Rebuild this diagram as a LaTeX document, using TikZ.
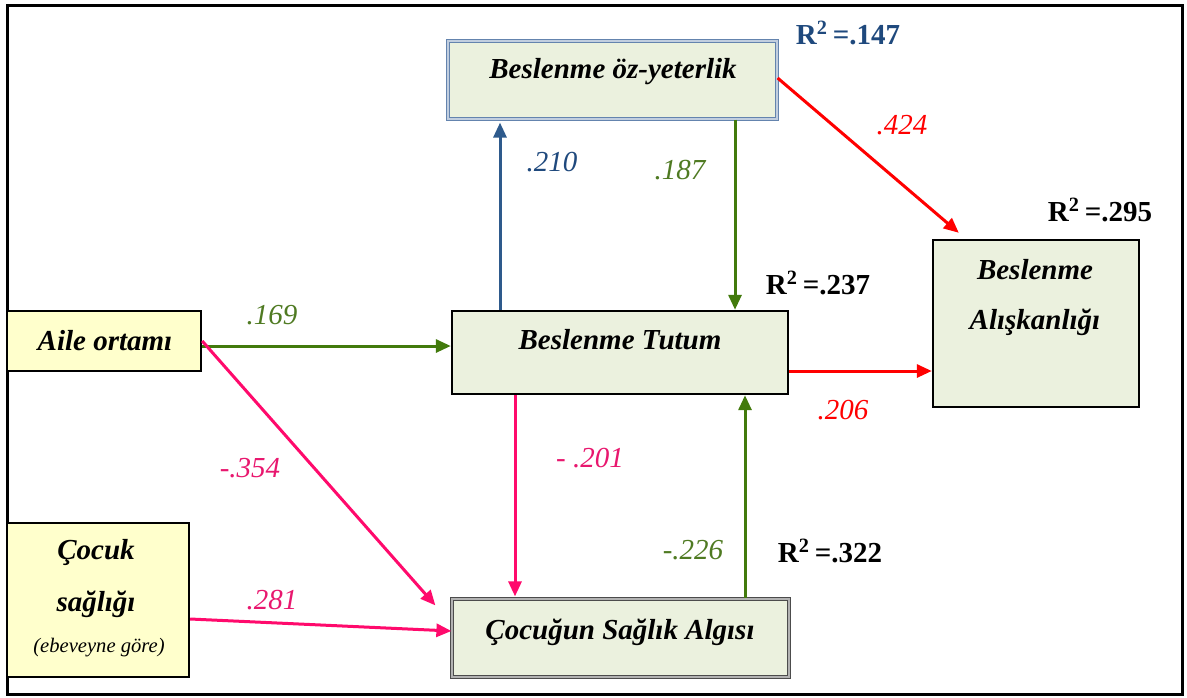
\documentclass[tikz,border=0pt]{standalone}
\usepackage{fontspec}
\setmainfont{Liberation Serif}
\usetikzlibrary{arrows.meta,calc}

\definecolor{boxgreen}{HTML}{EBF1DE}
\definecolor{boxyellow}{HTML}{FFFFCC}
\definecolor{pathgreen}{HTML}{427A0C}
\definecolor{labgreen}{HTML}{4F7A22}
\definecolor{pathblue}{HTML}{2E5A8C}
\definecolor{labblue}{HTML}{1F497D}
\definecolor{pathred}{HTML}{FF0000}
\definecolor{pathpink}{HTML}{FF0A6C}
\definecolor{labpink}{HTML}{E8176E}
\definecolor{frameblue}{HTML}{6484AE}

\tikzset{
  var/.style={draw=black, line width=1.2pt, fill=boxgreen, inner sep=0pt},
  exo/.style={draw=black, line width=1.2pt, fill=boxyellow, inner sep=0pt},
  dblblue/.style={draw=frameblue, double=frameblue!40, line width=0.6pt,
    double distance=0.7pt, fill=boxgreen, inner sep=0pt},
  dblgray/.style={draw=black!70, double=black!30, line width=0.6pt,
    double distance=0.7pt, fill=boxgreen, inner sep=0pt},
  boxtext/.style={font=\fontsize{14.5}{17}\selectfont\bfseries\itshape, inner sep=0pt},
  smalltext/.style={font=\fontsize{10.3}{12}\selectfont\itshape, inner sep=0pt},
  coef/.style={font=\fontsize{14.5}{17}\selectfont\itshape, inner sep=0pt},
  rsq/.style={font=\fontsize{14.5}{17}\selectfont\bfseries, inner sep=0pt},
  link/.style={line width=1.5pt, -{Triangle[length=7.5pt,width=6.5pt]}},
}

\begin{document}
\begin{tikzpicture}[x=0.5pt,y=-0.5pt]
  \useasboundingbox (0,0) rectangle (1187,697);

  % outer frame
  \draw[line width=1.5pt] (7,5) rectangle (1182,694);

  % boxes
  \node[dblblue, minimum width=164.5pt, minimum height=39pt] (ozyet) at (612.5,80) {};
  \node[exo, minimum width=97pt, minimum height=30pt] (aile) at (104,341) {};
  \node[exo, minimum width=91pt, minimum height=77pt] (cocuk) at (98,600) {};
  \node[var, minimum width=168pt, minimum height=41.5pt] (tutum) at (620,352.5) {};
  \node[dblgray, minimum width=168.5pt, minimum height=39pt] (algi) at (620.5,638) {};
  \node[var, minimum width=103pt, minimum height=83.5pt] (aliskan) at (1036,323.5) {};

  % box texts
  \node[boxtext] (t-ozyet) at (613,72) {Beslenme öz-yeterlik};
  \node[boxtext] (t-aile) at (105,341) {Aile ortamı};
  \node[boxtext] (t-cocuk1) at (96,552) {Çocuk};
  \node[boxtext] (t-cocuk2) at (96,604) {sağlığı};
  \node[smalltext] (t-cocuk3) at (99,648) {(ebeveyne göre)};
  \node[boxtext] (t-tutum) at (620,340) {Beslenme Tutum};
  \node[boxtext] (t-alis1) at (1035,270) {Beslenme};
  \node[boxtext] (t-alis2) at (1035,322) {Alışkanlığı};
  \node[boxtext] (t-algi) at (620,632) {Çocuğun Sağlık Algısı};

  % helper coordinates for connector positions
  \coordinate (xblue) at (500,0);
  \coordinate (xgreenA) at (735,0);
  \coordinate (xpink) at (515,0);
  \coordinate (xgreenB) at (745,0);
  \coordinate (yred) at (0,78);
  \coordinate (yaile) at (0,346);
  \coordinate (yrisk) at (0,371);
  \coordinate (ycoc) at (0,619);
  \coordinate (yalg) at (0,631);

  % connectors
  \draw[link, pathblue] (tutum.north -| xblue) -- ($(ozyet.south -| xblue)+(0,3)$);
  \draw[link, pathgreen] (ozyet.south -| xgreenA) -- (tutum.north -| xgreenA);
  \draw[link, pathred] (ozyet.east |- yred) -- ($(aliskan.north west)+(27,-6)$);
  \draw[link, pathgreen] (aile.east |- yaile) -- (tutum.west |- yaile);
  \draw[link, pathred] (tutum.east |- yrisk) -- (aliskan.west |- yrisk);
  \draw[link, pathpink] (tutum.south -| xpink) -- ($(algi.north -| xpink)+(0,-2)$);
  \draw[link, pathgreen] (algi.north -| xgreenB) -- (tutum.south -| xgreenB);
  \draw[link, pathpink] (aile.east) -- ($(algi.north west)+(-16,7)$);
  \draw[link, pathpink] (cocuk.east |- ycoc) -- (algi.west |- yalg);

  % path coefficients
  \node[coef, text=labblue] (c-210) at (552,162) {.210};
  \node[coef, text=labgreen] (c-187) at (680,170) {.187};
  \node[coef, text=pathred] (c-424) at (902,125) {.424};
  \node[coef, text=labgreen] (c-169) at (272,315) {.169};
  \node[coef, text=pathred] (c-206) at (843,410) {.206};
  \node[coef, text=labpink] (c-201) at (590,458) {- .201};
  \node[coef, text=labgreen] (c-226) at (693,550) {-.226};
  \node[coef, text=labpink] (c-354) at (250,468) {-.354};
  \node[coef, text=labpink] (c-281) at (272,600) {.281};

  % explained variance
  \node[rsq, text=labblue] (r-ozyet) at (848,33) {R\textsuperscript{2}\,=.147};
  \node[rsq] (r-alis) at (1100,210) {R\textsuperscript{2}\,=.295};
  \node[rsq] (r-tutum) at (818,283) {R\textsuperscript{2}\,=.237};
  \node[rsq] (r-algi) at (830,551) {R\textsuperscript{2}\,=.322};
\end{tikzpicture}
\end{document}
